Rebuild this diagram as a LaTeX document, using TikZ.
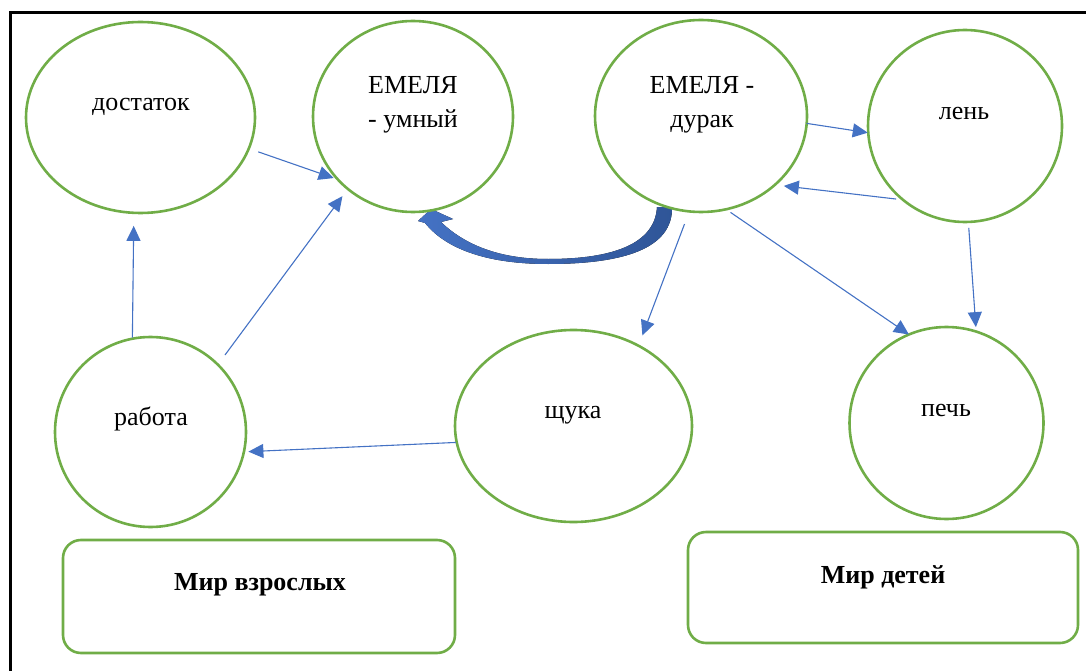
\documentclass[tikz,border=0pt]{standalone}
\usepackage{fontspec}
\setmainfont{Liberation Serif}
\usetikzlibrary{shapes.geometric,arrows.meta}
\definecolor{grn}{HTML}{70AD47}
\definecolor{blu}{HTML}{4472C4}
\definecolor{dblu}{HTML}{2F5597}
\begin{document}
\begin{tikzpicture}[x=1pt,y=-1pt,
 oval/.style={ellipse, draw=grn, line width=2.6pt, fill=white, inner sep=0pt, outer sep=0pt},
 lbl/.style={font=\fontsize{26}{30}\selectfont, inner sep=0pt, anchor=base},
 blbl/.style={font=\fontsize{26}{30}\selectfont\bfseries, inner sep=0pt, anchor=base},
 arr/.style={draw=blu, line width=1.1pt, -{Triangle[length=15pt,width=14pt]}},
 world/.style={draw=grn, line width=2.6pt, rounded corners=18pt, inner sep=0pt, outer sep=0pt}]
\useasboundingbox (0,0) rectangle (1086,671);
\draw[line width=3pt] (10.5,671) -- (10.5,12.5) -- (1086,12.5);

% curved block arrow
\fill[left color=blu, right color=dblu]
 (672,207) .. controls (673,248) and (625,264) .. (548,264)
 .. controls (485,264) and (445,248) .. (425,223)
 -- (418,221) -- (431,209) -- (453,219) -- (441,222)
 .. controls (468,248) and (505,259) .. (548,259)
 .. controls (615,259) and (655,243) .. (657,207) -- cycle;

% ellipses
\node[oval, minimum width=229pt, minimum height=191pt] (dost) at (140.5,117.5) {};
\node[oval, minimum width=200pt, minimum height=191pt] (umn) at (413,116.5) {};
\node[oval, minimum width=212pt, minimum height=192pt] (dur) at (701,116) {};
\node[oval, minimum width=194pt, minimum height=192pt] (len) at (965,126) {};
\node[oval, minimum width=191pt, minimum height=190pt] (rab) at (150.5,432) {};
\node[oval, minimum width=237pt, minimum height=192pt] (shch) at (573.5,426) {};
\node[oval, minimum width=194pt, minimum height=192pt] (pech) at (946.5,423) {};

% labels
\node[lbl] (tdost) at (141,111) {достаток};
\node[lbl] (tumnA) at (413,94) {ЕМЕЛЯ};
\node[lbl] (tumnB) at (413,128) {- умный};
\node[lbl] (tdurA) at (702,94) {ЕМЕЛЯ -};
\node[lbl] (tdurB) at (702,128) {дурак};
\node[lbl] (tlen) at (964,120) {лень};
\node[lbl] (trab) at (151,425) {работа};
\node[lbl] (tshch) at (573,418) {щука};
\node[lbl] (tpech) at (946,416) {печь};

% world boxes
\node[world, minimum width=392pt, minimum height=113pt] (adult) at (259,596.5) {};
\node[blbl] (tadult) at (260,590) {Мир взрослых};
\node[world, minimum width=390pt, minimum height=111pt] (child) at (883,587.5) {};
\node[blbl] (tchild) at (883,583) {Мир детей};

% connectors
\draw[arr, shorten <=10pt, shorten >=4.5pt] (dost.-16.8) -- (umn.220.5);
\draw[arr, shorten <=12pt, shorten >=9pt] (rab.45.2) -- (umn.228.2);
\draw[arr, shorten <=1pt, shorten >=13pt] (rab.101.6) -- (dost.266);
\draw[arr, shorten <=1pt, shorten >=4.5pt] (shch.188.6) -- (rab.-12.7);
\draw[arr, shorten <=0pt, shorten >=0.5pt] (dur.-4.9) -- (len.184);
\draw[arr, shorten <=7pt, shorten >=9pt] (len.230.5) -- (dur.-43.2);
\draw[arr, shorten <=13.5pt, shorten >=11pt] (dur.263.2) -- (shch.51.2);
\draw[arr, shorten <=5.5pt, shorten >=0pt] (dur.-75.8) -- (pech.113.3);
\draw[arr, shorten <=6pt, shorten >=4.5pt] (len.-88.3) -- (pech.72.4);
\end{tikzpicture}
\end{document}
